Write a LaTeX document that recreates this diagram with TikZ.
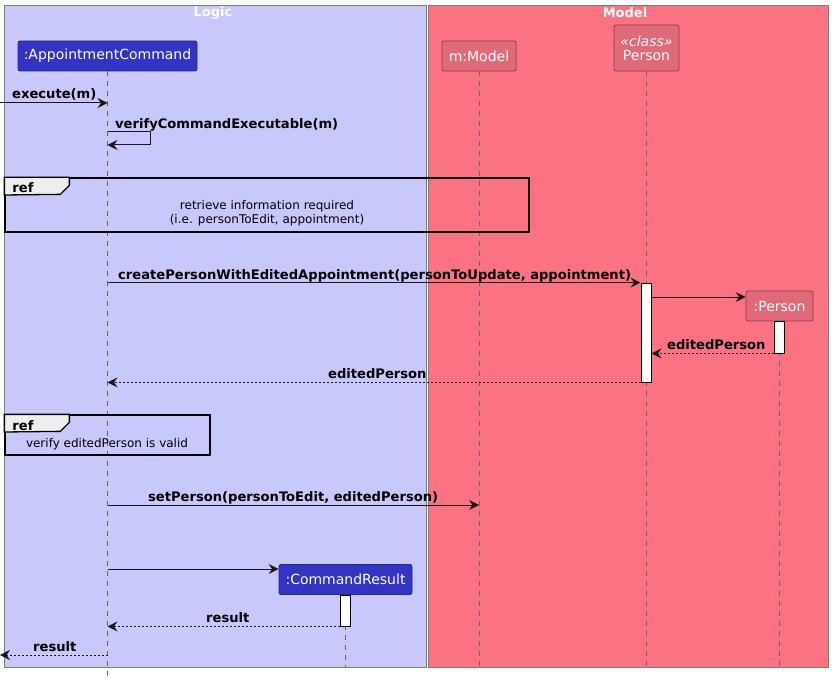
\documentclass[tikz,border=0pt]{standalone}
\usepackage{fontspec}
\setmainfont{DejaVu Sans}
\usetikzlibrary{arrows.meta}

\definecolor{logicbg}{RGB}{200,200,250}
\definecolor{modelbg}{RGB}{251,114,130}
\definecolor{logicpart}{RGB}{51,51,196}
\definecolor{modelpart}{RGB}{224,106,120}
\definecolor{grpline}{RGB}{125,125,125}
\definecolor{reftag}{RGB}{238,238,238}

\begin{document}
\begin{tikzpicture}[x = 1pt, y = -1pt]
    \tikzstyle{group} = [draw = grpline, line width = 1pt];
    \tikzstyle{title} = [text = white, font = \fontsize{13}{15}\selectfont\bfseries, inner sep = 0pt];
    \tikzstyle{part} = [draw, line width = .8pt, rounded corners = 2pt, text = white, font = \fontsize{14}{16}\selectfont, minimum height = 30pt, inner sep = 0pt, align = center];
    \tikzstyle{life} = [draw = black!60, dash pattern = on 5pt off 5pt, line width = .7pt];
    \tikzstyle{act} = [draw, fill = white, line width = .9pt, minimum width = 10pt, inner sep = 0pt];
    \tikzstyle{msg} = [draw = black!90, line width = 1pt, -{Stealth[length = 10pt, width = 10pt, inset = 3.5pt]}];
    \tikzstyle{reply} = [msg, dash pattern = on 2pt off 2pt];
    \tikzstyle{lbl} = [font = \fontsize{13.1}{15}\selectfont\bfseries, inner sep = 0pt, anchor = base west];
    \tikzstyle{frame} = [draw, line width = 1.3pt, inner sep = 0pt];
    \tikzstyle{reftext} = [font = \fontsize{12}{14}\selectfont, align = center, inner sep = 0pt];
    \useasboundingbox (0,0) rectangle (832,679);
    % boxes:
    \draw[group, fill = logicbg] (4,6) rectangle (426,667);
    \draw[group, fill = modelbg] (428,6) rectangle (828,667);
    \node[title] (tlogic) at (213,13) {Logic};
    \node[title] (tmodel) at (625,13) {Model};
    % participants:
    \node[part, fill = logicpart, draw = logicpart!75!black, minimum width = 179pt] (ac) at (107.5,56) {:AppointmentCommand};
    \node[part, fill = modelpart, draw = modelpart!60!black, minimum width = 74pt] (mm) at (479,56) {m:Model};
    \node[part, fill = modelpart, draw = modelpart!60!black, minimum width = 65pt, minimum height = 46pt] (pc) at (646.5,48) {\textit{«class»}\\[-2pt]Person};
    \node[part, fill = modelpart, draw = modelpart!60!black, minimum width = 67pt] (pp) at (779.5,306) {:Person};
    \node[part, fill = logicpart, draw = logicpart!75!black, minimum width = 133pt] (cr) at (345.5,579.5) {:CommandResult};
    % lifelines:
    \draw[life] (ac.south) -- (ac.south |- 0,679);
    \draw[life] (mm.south) -- (mm.south |- 0,667);
    \draw[life] (pc.south) -- (pc.south |- 0,667);
    \draw[life] (pp.south) -- (pp.south |- 0,667);
    \draw[life] (cr.south) -- (cr.south |- 0,667);
    % activations:
    \node[act, minimum height = 99pt] (pca) at (646,332.5){};
    \node[act, minimum height = 32pt] (ppa) at (779,337){};
    \node[act, minimum height = 31pt] (cra) at (345,610.5){};
    % messages:
    \coordinate (in) at (0,103);
    \coordinate (out) at (0,655);
    \draw[msg] (in) -- (ac |- in);
    \node[lbl] (l1) at (12,99) {execute(m)};
    \draw[msg] (ac |- 0,132) -- (150,132) -- (150,145) -- (ac |- 0,145);
    \node[lbl] (l2) at (115,129) {verifyCommandExecutable(m)};
    \draw[msg] (ac |- pca.north) -- (pca.north west);
    \node[lbl] (l3) at (118,279) {createPersonWithEditedAppointment(personToUpdate, appointment)};
    \draw[msg] (pca.east |- 0,297) -- (pp.west |- 0,297);
    \draw[reply] (ppa.south west) -- (pca.east |- ppa.south);
    \node[lbl] (l4) at (667,349) {editedPerson};
    \draw[reply] (pca.south west) -- (ac |- pca.south);
    \node[lbl] (l5) at (328,378) {editedPerson};
    \draw[msg] (ac |- 0,505) -- (mm |- 0,505);
    \node[lbl] (l6) at (148,501) {setPerson(personToEdit, editedPerson)};
    \draw[msg] (ac |- 0,569) -- (cr.west |- 0,569);
    \draw[reply] (cra.south west) -- (ac |- cra.south);
    \node[lbl] (l7) at (206,622) {result};
    \draw[reply] (ac |- out) -- (out);
    \node[lbl] (l8) at (33,651) {result};
    % ref frames:
    \node[frame, minimum width = 524pt, minimum height = 54pt] (ref1) at (267,205){};
    \draw[frame, fill = reftag] (ref1.north west) -- ++(65,0) -- ++(0,8) -- ++(-9,9) -- (ref1.west |- 0,195) -- cycle;
    \node[lbl, anchor = base] (r1) at (23,193) {ref};
    \node[reftext] (t1) at (267,213) {retrieve information required\\(i.e. personToEdit, appointment)};
    \node[frame, minimum width = 205pt, minimum height = 40pt] (ref2) at (107.5,435){};
    \draw[frame, fill = reftag] (ref2.north west) -- ++(65,0) -- ++(0,8) -- ++(-9,9) -- (ref2.west |- 0,432) -- cycle;
    \node[lbl, anchor = base] (r2) at (23,430) {ref};
    \node[reftext] (t2) at (107,444) {verify editedPerson is valid};
\end{tikzpicture}
\end{document}
